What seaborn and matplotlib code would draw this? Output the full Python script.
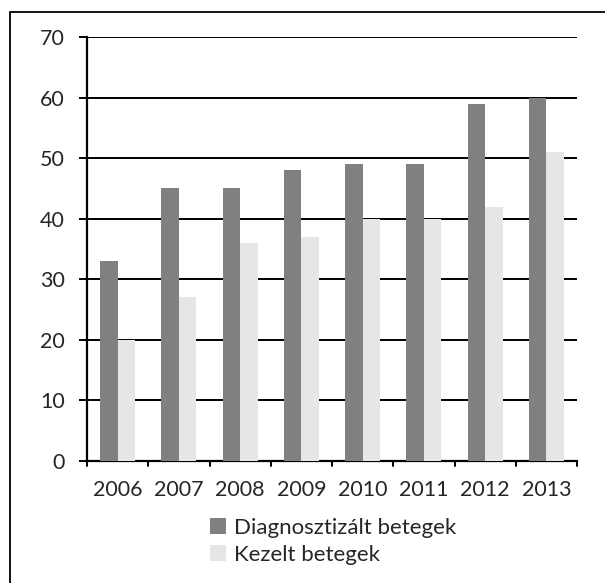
import matplotlib
matplotlib.use("Agg")
import matplotlib.pyplot as plt
from matplotlib.lines import Line2D
from matplotlib.patches import Patch
import seaborn as sns
import pandas as pd

years = ["2006", "2007", "2008", "2009", "2010", "2011", "2012", "2013"]
diagnosed = [33, 45, 45, 48, 49, 49, 59, 60]
treated = [20, 27, 36, 37, 40, 40, 42, 51]
series_names = ["Diagnosztizált betegek", "Kezelt betegek"]
series_colors = ["#808080", "#e6e6e6"]
y_ticks = [0, 10, 20, 30, 40, 50, 60, 70]

df = pd.DataFrame({
    "year": years * 2,
    "value": diagnosed + treated,
    "series": [series_names[0]] * len(years) + [series_names[1]] * len(years),
})

sns.set_theme(style="white")
plt.rcParams["font.family"] = ["Lato", "DejaVu Sans"]

fig = plt.figure(figsize=(6.05, 5.83), dpi=100)
ax = fig.add_axes([87 / 605, 1 - 461 / 583, (577 - 87) / 605, (461 - 37) / 583])

sns.barplot(data=df, x="year", y="value", hue="series", order=years,
            hue_order=series_names, palette=series_colors, width=0.57,
            saturation=1, ax=ax, legend=False, zorder=3)
for p in ax.patches:
    p.set_linewidth(0)

ax.set_ylim(0, 70)
ax.set_xlim(-0.5, len(years) - 0.5)
ax.set_yticks(y_ticks)
ax.set_yticklabels([str(t) for t in y_ticks], fontsize=15.5)
ax.set_xticks(range(len(years)))
ax.set_xticklabels(years, fontsize=15.5)
ax.set_xlabel("")
ax.set_ylabel("")

# horizontal gridlines, extended left over the tick marks
for t in y_ticks[1:]:
    ax.axhline(t, color="black", lw=1.4, zorder=1)
ax.tick_params(axis="y", length=6, width=1.4, color="black", pad=10, left=True)
ax.tick_params(axis="x", length=0, pad=14)

# category separator ticks below the x axis
for b in range(len(years) + 1):
    ax.plot([b - 0.5, b - 0.5], [0, -0.9], color="black", lw=1.4,
            clip_on=False, zorder=4)

for s in ["top", "right"]:
    ax.spines[s].set_visible(False)
ax.spines["left"].set_color("black")
ax.spines["left"].set_linewidth(1.6)
ax.spines["bottom"].set_color("black")
ax.spines["bottom"].set_linewidth(1.6)
ax.spines["left"].set_zorder(5)

handles = [Patch(facecolor=c, edgecolor="none") for c in series_colors]
fig.legend(handles, series_names, loc="upper left",
           bbox_to_anchor=(201 / 605, 1 - 509 / 583), frameon=False,
           fontsize=16, handlelength=0.72, handleheight=0.72,
           handletextpad=0.35, labelspacing=0.3, borderaxespad=0)

# outer frame (left and top edges)
fig.add_artist(Line2D([10 / 605, 10 / 605], [0, 1 - 12 / 583],
                      transform=fig.transFigure, color="black", lw=1.3))
fig.add_artist(Line2D([10 / 605, 1], [1 - 12 / 583, 1 - 12 / 583],
                      transform=fig.transFigure, color="black", lw=1.3))

fig.savefig("out.png", dpi=100, facecolor="white")
